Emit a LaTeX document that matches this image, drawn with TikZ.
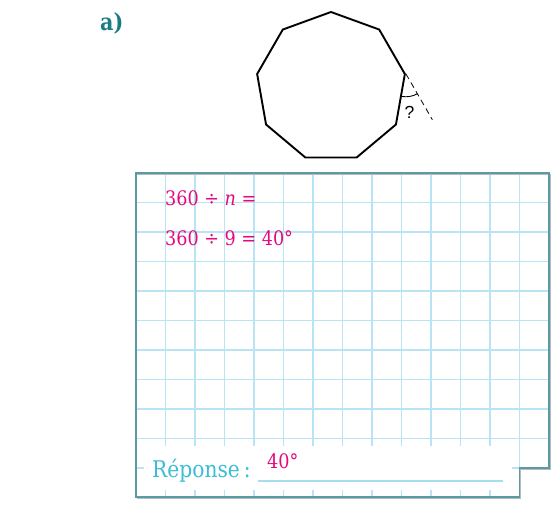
\documentclass[tikz,border=0pt]{standalone}
\usepackage{fontspec}
\setmainfont{DejaVu Serif}[FakeStretch=0.88]
\newfontfamily\qfont{Liberation Sans}
\usetikzlibrary{positioning, calc, shapes.geometric, angles}
\definecolor{framecol}{HTML}{5A9AA3}
\definecolor{shadowcol}{HTML}{B4BCBE}
\definecolor{gridcol}{HTML}{B8E4F5}
\definecolor{pinkink}{HTML}{E5097F}
\definecolor{cyanink}{HTML}{3CBCD8}
\definecolor{lineblue}{HTML}{A6DDF0}
\definecolor{tealink}{HTML}{1B7C84}

\begin{document}
\begin{tikzpicture}[
      x=1pt, y=1pt,
      gridline/.style={gridcol, line width=1.2pt},
      boxframe/.style={framecol, line width=1.2pt},
      answer/.style={pinkink, anchor=base west, inner sep=0pt, font=\fontsize{20}{24}\selectfont},
    ]
    \useasboundingbox (0,0) rectangle (556,-505);

    % Label
    \node[tealink, anchor=base west, inner sep=0pt, font=\fontsize{23.5}{28}\selectfont\bfseries]
      (part) at (100,-31) {a)};

    % Nonagon with exterior angle
    \node[draw, regular polygon, regular polygon sides=9, minimum size=150pt,
          inner sep=0pt, line width=1.9pt] (nonagon) at (331,-87) {};
    \coordinate (cnext) at (nonagon.corner 7);
    \coordinate (cvert) at (nonagon.corner 8);
    \coordinate (cprev) at (nonagon.corner 9);
    \coordinate (ext) at ($(cvert)!-53pt!(cprev)$);
    \draw[line width=0.8pt, dash pattern=on 6pt off 4pt] (cvert) -- (ext);
    \pic[draw, line width=0.9pt, angle radius=23pt] {angle = cnext--cvert--ext};
    \node[font=\qfont\fontsize{17.5}{20}\selectfont, inner sep=0pt] (ques) at (409.5,-112) {?};

    % Squared paper
    \foreach \k in {1,...,12}
      \draw[gridline] (136+29.5*\k,-173) -- (136+29.5*\k,-497);
    \draw[gridline] (519.5,-173) -- (519.5,-468);
    \foreach \j in {1,...,9}
      \draw[gridline] (136,-173-29.5*\j) -- (549,-173-29.5*\j);
    \draw[gridline] (136,-468) -- (519.5,-468);
    \fill[white] (144,-446) rectangle (512,-490);

    \draw[shadowcol, line width=1.2pt, shift={(1.3,-1.3)}]
      (136,-173) -- (549,-173) -- (549,-468) -- (519.5,-468) -- (519.5,-497) -- (136,-497);
    \draw[boxframe]
      (136,-173) -- (549,-173) -- (549,-468) -- (519.5,-468) -- (519.5,-497) -- (136,-497) -- cycle;

    % Working
    \node[answer] (eqn1) at (165,-205) {360 ÷ \textit{n} =};
    \node[answer] (eqn2) at (165,-245) {360 ÷ 9 = 40°};

    % Answer line
    \node[cyanink, anchor=base west, inner sep=0pt, font=\fontsize{23}{27}\selectfont]
      (reponse) at (152,-477) {Réponse\,:};
    \coordinate (lineL) at (258,-481);
    \coordinate (lineR) at (503,-481);
    \draw[lineblue, line width=1.2pt] (lineL) -- (lineR);
    \node[answer] (result) at (267,-468) {40°};
  \end{tikzpicture}
\end{document}
